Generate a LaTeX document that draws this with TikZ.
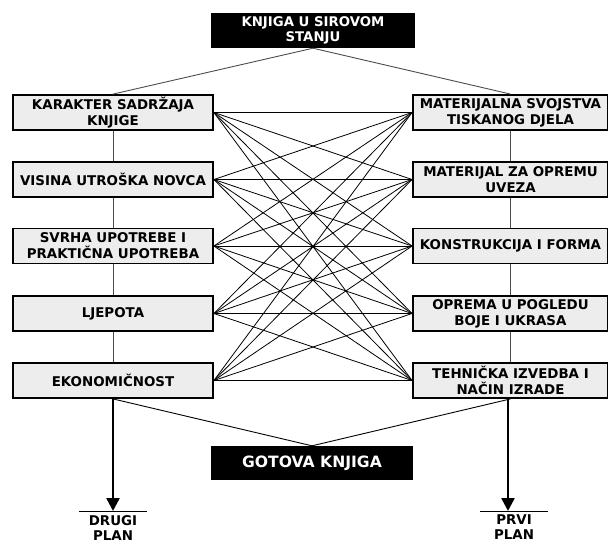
\documentclass[tikz,border=0pt]{standalone}
\usepackage{fontspec}
\setmainfont{DejaVu Sans}
\usetikzlibrary{arrows.meta}
\begin{document}
\begin{tikzpicture}[x=1pt,y=-1pt,
  box/.style={draw=black,line width=1.8pt,fill=black!7,minimum height=35pt,align=center,
    font=\bfseries\fontsize{13.4}{16}\selectfont},
  dark/.style={fill=black,text=white,minimum height=35pt,align=center},
  cross/.style={black,line width=0.8pt},
  link/.style={black!70,line width=0.9pt},
  plan/.style={black,line width=2.4pt,-{Triangle[length=13pt,width=13pt]}},
  planlabel/.style={anchor=north,align=center,font=\bfseries\fontsize{13.4}{15}\selectfont}]
\tikzstyle{every node}+=[inner sep=0pt]
\useasboundingbox (0,0) rectangle (608,542);
\node [dark,minimum width=204pt,font=\bfseries\fontsize{13.3}{15}\selectfont] (raw) at (313,30.5) {KNJIGA U SIROVOM\\STANJU};
\node [box,minimum width=200pt] (L1) at (113,112.5) {KARAKTER SADRŽAJA\\KNJIGE};
\node [box,minimum width=200pt] (L2) at (113,179.5) {VISINA UTROŠKA NOVCA};
\node [box,minimum width=200pt] (L3) at (113,246) {SVRHA UPOTREBE I\\PRAKTIČNA UPOTREBA};
\node [box,minimum width=200pt] (L4) at (113,313.5) {LJEPOTA};
\node [box,minimum width=200pt] (L5) at (113,380.5) {EKONOMIČNOST};
\node [box,minimum width=195pt] (R1) at (510.5,112.5) {MATERIJALNA SVOJSTVA\\TISKANOG DJELA};
\node [box,minimum width=195pt] (R2) at (510.5,179.5) {MATERIJAL ZA OPREMU\\UVEZA};
\node [box,minimum width=195pt] (R3) at (510.5,246) {KONSTRUKCIJA I FORMA};
\node [box,minimum width=195pt] (R4) at (510.5,313.5) {OPREMA U POGLEDU\\BOJE I UKRASA};
\node [box,minimum width=195pt] (R5) at (510.5,380.5) {TEHNIČKA IZVEDBA I\\NAČIN IZRADE};
\node [dark,minimum width=202pt,minimum height=34pt,font=\bfseries\fontsize{15.6}{18}\selectfont] (done) at (312,463) {GOTOVA KNJIGA};
\draw [link] (raw.south) -- (L1.north);
\draw [link] (raw.south) -- (R1.north);
\foreach \i/\j in {1/2,2/3,3/4,4/5} {
  \draw [link] (L\i.south) -- (L\j.north);
  \draw [link] (R\i.south) -- (R\j.north);
}
\foreach \i in {1,...,5}
  \foreach \j in {1,...,5}
    \draw [cross] (L\i.east) -- (R\j.west);
\draw [link,black] (L5.south) -- (done.north);
\draw [link,black] (R5.south) -- (done.north);
\coordinate (d1) at (79,511);
\coordinate (d2) at (147,511);
\coordinate (p1) at (480,511);
\coordinate (p2) at (548,511);
\draw [black,line width=0.9pt] (d1) -- (d2);
\draw [black,line width=0.9pt] (p1) -- (p2);
\draw [plan] (L5.south) -- (L5.south |- d1);
\draw [plan] (R5.south -| 508,0) -- (508,511);
\node [planlabel] (drugi) at (113,515) {DRUGI\\PLAN};
\node [planlabel] (prvi) at (514,515) {PRVI\\PLAN};
\end{tikzpicture}
\end{document}
